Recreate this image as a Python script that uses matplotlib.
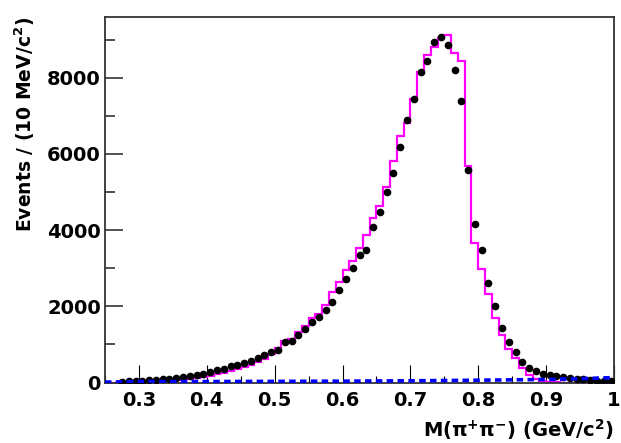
import numpy as np
import matplotlib
matplotlib.use('Agg')
import matplotlib.pyplot as plt
from matplotlib.ticker import MultipleLocator

plt.rcParams['font.family'] = ['DejaVu Sans']
plt.rcParams['font.weight'] = 'bold'

# ========== data ==========
# bin edges: 10 MeV bins from 0.25 to 1.0 GeV
bin_lo = 0.25
bin_hi = 1.0
bin_w = 0.01

# data points (bin centres 0.255 ... 0.995), nan = no point
data_counts = [
    np.nan, np.nan, 20, 38, 44, 50, 58, 68, 82, 100,
    122, 145, 172, 205, 235, 275, 320, 355, 420, 465,
    520, 575, 640, 720, 810, 860, 1060, 1095, 1255, 1405,
    1590, 1720, 1910, 2115, 2440, 2715, 2995, 3335, 3480, 4080,
    4485, 5000, 5500, 6175, 6900, 7430, 8140, 8440, 8945, 9075,
    8870, 8195, 7400, 5580, 4155, 3470, 2600, 2000, 1430, 1060,
    805, 535, 380, 295, 235, 195, 165, 135, 120, 100,
    80, 60, 45, 35, 30,
]

# MC histogram (magenta), one value per bin
mc_counts = [
    0, 0, 5, 15, 22, 28, 35, 42, 50, 60,
    72, 85, 100, 120, 145, 175, 210, 250, 295, 345,
    400, 460, 530, 620, 740, 900, 1080, 1130, 1320, 1490,
    1700, 1800, 2040, 2380, 2630, 2940, 3200, 3540, 3880, 4320,
    4640, 5120, 5820, 6460, 6800, 7440, 8160, 8600, 8810, 9040,
    9110, 8640, 8450, 5670, 3650, 2990, 2330, 1680, 1240, 890,
    630, 370, 195, 90, 45, 20, 8, 0, 0, 0,
    0, 0, 0, 0, 0,
]

# background (blue dashed)
bg_x = [0.25, 0.30, 0.40, 0.50, 0.60, 0.70, 0.80, 0.90, 0.95, 1.00]
bg_y = [10, 25, 25, 30, 35, 45, 60, 80, 100, 130]

xticks = [0.3, 0.4, 0.5, 0.6, 0.7, 0.8, 0.9, 1.0]
xtick_labels = ['0.3', '0.4', '0.5', '0.6', '0.7', '0.8', '0.9', '1']
yticks = [0, 2000, 4000, 6000, 8000]

n_bins = len(mc_counts)
edges = bin_lo + bin_w * np.arange(n_bins + 1)
centres = edges[:-1] + bin_w / 2

# ========== plot ==========
fig = plt.figure(figsize=(6.21, 4.43), dpi=100)
ax = fig.add_axes([105 / 621, 1 - 382.5 / 443, 509 / 621, 365.8 / 443])

ax.stairs(mc_counts, edges, color='#ff00ff', linewidth=1.6, zorder=2)
ax.plot(centres, data_counts, 'o', color='black', markersize=4.5, zorder=3)
ax.plot(bg_x, bg_y, color='#0000ff', linewidth=2.6, dashes=(1.8, 1.2), zorder=4)

ax.set_xlim(bin_lo, bin_hi)
ax.set_ylim(0, 9600)

ax.set_xticks(xticks)
ax.set_xticklabels(xtick_labels)
ax.set_yticks(yticks)
ax.xaxis.set_minor_locator(MultipleLocator(0.05))
ax.yaxis.set_minor_locator(MultipleLocator(1000))

ax.tick_params(axis='x', which='major', direction='in', length=13, width=0.8,
               color='black', labelsize=14, pad=6, top=False)
ax.tick_params(axis='x', which='minor', direction='in', length=5, width=0.8,
               color='black', top=False)
ax.tick_params(axis='y', which='major', direction='in', length=13, width=1.2,
               color='#333333', labelsize=14, pad=3, right=False)
ax.tick_params(axis='y', which='minor', direction='in', length=7, width=1.2,
               color='#333333', right=False)

for sp in ax.spines.values():
    sp.set_linewidth(1.3)
    sp.set_color('#333333')

ax.set_xlabel('M(π$^{\\mathbf{+}}$π$^{\\mathbf{-}}$) (GeV/c$^{\\mathbf{2}}$)',
              fontsize=14, fontweight='bold', loc='right', labelpad=5)
ax.set_ylabel('Events / (10 MeV/c$^{\\mathbf{2}}$)',
              fontsize=13.5, fontweight='bold', loc='top', labelpad=7)

fig.savefig('out.png', dpi=100)
